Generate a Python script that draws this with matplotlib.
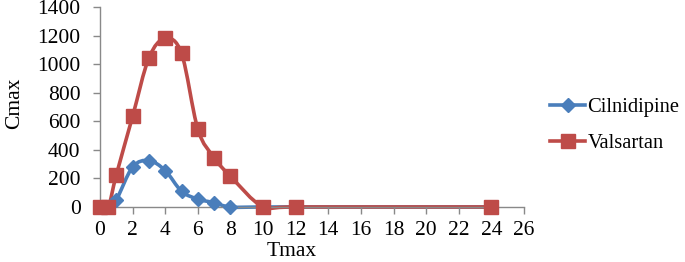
import matplotlib.pyplot as plt
import numpy as np
from matplotlib.path import Path
from matplotlib.patches import PathPatch
from matplotlib.lines import Line2D

plt.rcParams['font.family'] = ['Liberation Serif', 'DejaVu Serif']

# time points (h)
t = [0, 0.5, 1, 2, 3, 4, 5, 6, 7, 8, 10, 12, 24]
cilnidipine = [0, 0, 50, 280, 325, 255, 110, 55, 30, 0, 0, 0, 0]
valsartan = [0, 0, 225, 635, 1045, 1180, 1075, 545, 345, 215, 0, 0, 0]
series_names = ['Cilnidipine', 'Valsartan']
xticks = list(range(0, 27, 2))
yticks = list(range(0, 1401, 200))

blue = '#4a7ebb'
red = '#be4b48'
axis_col = '#898989'


def smooth_path(x, y):
    # Excel-like smoothed line: cubic bezier segments through the points
    p = np.column_stack([x, y]).astype(float)
    n = len(p)
    verts = [p[0]]
    codes = [Path.MOVETO]
    for i in range(n - 1):
        p0 = p[i - 1] if i > 0 else p[i]
        p3 = p[i + 2] if i + 2 < n else p[i + 1]
        c1 = p[i] + (p[i + 1] - p0) / 6
        c2 = p[i + 1] - (p3 - p[i]) / 6
        verts += [c1, c2, p[i + 1]]
        codes += [Path.CURVE4] * 3
    return Path(verts, codes)


fig = plt.figure(figsize=(6.85, 2.62), dpi=100)
ax = fig.add_axes([0.146, 0.21, 0.619, 0.763])

for yv, col, mk, ms in [(cilnidipine, blue, 'D', 7), (valsartan, red, 's', 10)]:
    ax.add_patch(PathPatch(smooth_path(t, yv), fill=False, edgecolor=col, lw=2.6,
                           capstyle='round', joinstyle='round', clip_on=False))
    ax.plot(t, yv, ls='none', marker=mk, ms=ms, color=col, mec=col, clip_on=False, zorder=3)

ax.set_xlim(0, 26)
ax.set_ylim(0, 1400)
ax.set_xticks(xticks)
ax.set_yticks(yticks)
for s in ['top', 'right']:
    ax.spines[s].set_visible(False)
for s in ['left', 'bottom']:
    ax.spines[s].set_color(axis_col)
    ax.spines[s].set_linewidth(1)
ax.tick_params(axis='both', colors=axis_col, labelcolor='black', labelsize=15.5, length=5, width=1)
ax.tick_params(axis='x', pad=5)
ax.tick_params(axis='y', pad=9)
ax.set_xlabel('Tmax', fontsize=15.5)
ax.xaxis.set_label_coords(0.453, -0.175)
ax.set_ylabel('Cmax', fontsize=15.5)
ax.yaxis.set_label_coords(-0.18, 0.52)

handles = [Line2D([], [], color=blue, lw=2.6, marker='D', ms=7),
           Line2D([], [], color=red, lw=2.6, marker='s', ms=10)]
fig.legend(handles, series_names, loc='center left', bbox_to_anchor=(0.803, 0.521),
           frameon=False, fontsize=14.8, handlelength=1.7, handletextpad=0.12,
           labelspacing=0.8, borderaxespad=0, borderpad=0)

fig.savefig('out.png', dpi=100)
